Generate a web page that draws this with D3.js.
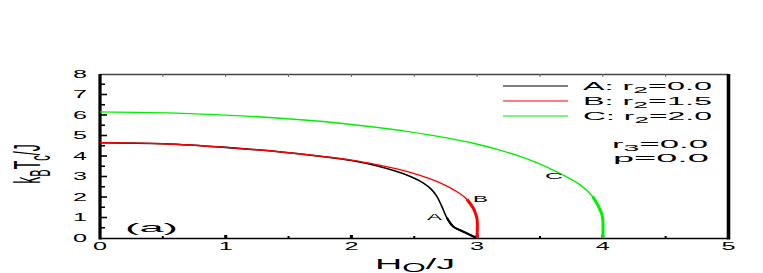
<!DOCTYPE html>
<html>
<head>
<meta charset="utf-8">
<title>Tc vs H0</title>
<script src="https://d3js.org/d3.v7.min.js"></script>
<style>
  body { margin: 0; background: #fff; }
  text { font-family: "Liberation Sans", Arial, sans-serif; fill: #000; }
</style>
</head>
<body>
<div id="chart"></div>
<script>
// data
var hA = [0, 0.5, 1, 1.5, 2, 2.2, 2.44, 2.57, 2.64, 2.68, 2.72, 2.76, 2.81, 2.89, 2.95, 3.0];
var tA = [4.65, 4.6, 4.42, 4.16, 3.78, 3.52, 3.07, 2.69, 2.35, 2.03, 1.53, 0.98, 0.56, 0.31, 0.13, 0];
var hB = [0, 0.5, 1, 1.5, 2, 2.2, 2.44, 2.71, 2.85, 2.92, 2.97, 2.99, 3.0, 3.0];
var tB = [4.65, 4.6, 4.42, 4.16, 3.8, 3.58, 3.25, 2.68, 2.22, 1.88, 1.45, 1.15, 0.9, 0];
var hC = [0, 0.66, 1.29, 1.91, 2.44, 2.97, 3.37, 3.63, 3.82, 3.92, 3.96, 3.99, 4.0, 4.0];
var tC = [6.15, 6.08, 5.9, 5.6, 5.2, 4.62, 3.92, 3.24, 2.59, 2.02, 1.61, 1.2, 0.9, 0];
var seriesNames = ["A: r", "B: r", "C: r"];
var seriesValues = ["=0.0", "=1.5", "=2.0"];
var xTicks = [0, 1, 2, 3, 4, 5];
var yTicks = [0, 1, 2, 3, 4, 5, 6, 7, 8];

var W = 763, H = 273;
var svg = d3.select("#chart").append("svg").attr("width", W).attr("height", H);

var x = d3.scaleLinear().domain([0, 5]).range([100, 728.5]);
var y = d3.scaleLinear().domain([0, 8]).range([238, 74]);

var halfs = d3.range(0.5, 5, 0.5);
var yHalfs = d3.range(0.5, 8, 0.5);

// top border with small ticks
svg.append("line").attr("x1", x(0)).attr("x2", x(5)).attr("y1", 74.5).attr("y2", 74.5)
  .attr("stroke", "#444").attr("stroke-width", 1.3);
svg.selectAll(".ttick").data(halfs).enter().append("line")
  .attr("x1", d => x(d)).attr("x2", d => x(d)).attr("y1", 74).attr("y2", 77)
  .attr("stroke", "#666").attr("stroke-width", 1);

// bottom axis
svg.append("line").attr("x1", x(0)).attr("x2", x(5)).attr("y1", y(0) + 0.5).attr("y2", y(0) + 0.5)
  .attr("stroke", "#000").attr("stroke-width", 1.6);
svg.selectAll(".btick").data(halfs).enter().append("rect")
  .attr("x", d => x(d) - (d % 1 === 0 ? 1.5 : 1))
  .attr("y", d => y(0) - (d % 1 === 0 ? 3 : 2))
  .attr("width", d => d % 1 === 0 ? 3 : 2)
  .attr("height", d => d % 1 === 0 ? 3 : 2)
  .attr("fill", "#000");

// left axis ticks
svg.selectAll(".ltick").data(yHalfs).enter().append("line")
  .attr("x1", x(0)).attr("x2", d => x(0) + (d % 1 === 0 ? 7 : 5))
  .attr("y1", d => y(d)).attr("y2", d => y(d))
  .attr("stroke", "#000").attr("stroke-width", 1.6);

// left and right thick borders
svg.append("line").attr("x1", x(0)).attr("x2", x(0)).attr("y1", 74).attr("y2", 239.5)
  .attr("stroke", "#000").attr("stroke-width", 3.2);
svg.append("line").attr("x1", x(5)).attr("x2", x(5)).attr("y1", 74).attr("y2", 239.5)
  .attr("stroke", "#000").attr("stroke-width", 3.6);

// tick labels
svg.selectAll(".ylab").data(yTicks).enter().append("text")
  .attr("x", 73).attr("y", d => y(d) + 3.5)
  .attr("font-size", 10).attr("textLength", 14).attr("lengthAdjust", "spacingAndGlyphs")
  .text(d => d);
svg.selectAll(".xlab").data(xTicks).enter().append("text")
  .attr("x", d => x(d) - 7).attr("y", 250)
  .attr("font-size", 10).attr("textLength", 14).attr("lengthAdjust", "spacingAndGlyphs")
  .text(d => d);

// curves
var line = d3.line().x(d => x(d[0])).y(d => y(d[1])).curve(d3.curveCatmullRom.alpha(0.5));
function pts(h, t) { return h.map((v, i) => [v, t[i]]); }
var curves = [
  { p: pts(hA, tA), color: "#000", w: 1.6, tail: 0.6, tw: 2.2 },
  { p: pts(hB, tB), color: "#ff0000", w: 1.4, tail: 1.45, tw: 3 },
  { p: pts(hC, tC), color: "#00f000", w: 1.4, tail: 1.7, tw: 3 }
];
curves.forEach(function(c) {
  svg.append("path").attr("d", line(c.p)).attr("fill", "none")
    .attr("stroke", c.color).attr("stroke-width", c.w);
  var k = c.p.findIndex(d => d[1] <= c.tail);
  svg.append("path").attr("d", line(c.p.slice(Math.max(0, k - 1)))).attr("fill", "none")
    .attr("stroke", c.color).attr("stroke-width", c.tw);
});

// legend
var legColors = ["#000", "#ff0000", "#00f000"];
seriesNames.forEach(function(n, i) {
  var ly = 86 + i * 15;
  svg.append("line").attr("x1", 503).attr("x2", 568).attr("y1", ly).attr("y2", ly)
    .attr("stroke", legColors[i]).attr("stroke-width", 1.2);
  var t = svg.append("text").attr("x", 583).attr("y", ly + 3.8).attr("font-size", 11)
    .attr("textLength", 129).attr("lengthAdjust", "spacingAndGlyphs");
  t.append("tspan").text(n);
  t.append("tspan").attr("dy", 3).attr("font-size", 9).text("2");
  t.append("tspan").attr("dy", -3).text(seriesValues[i]);
});
var t3 = svg.append("text").attr("x", 612).attr("y", 148).attr("font-size", 11)
  .attr("textLength", 96).attr("lengthAdjust", "spacingAndGlyphs");
t3.append("tspan").text("r");
t3.append("tspan").attr("dy", 3).attr("font-size", 9).text("3");
t3.append("tspan").attr("dy", -3).text("=0.0");
svg.append("text").attr("x", 613).attr("y", 161.5).attr("font-size", 11)
  .attr("textLength", 96).attr("lengthAdjust", "spacingAndGlyphs").text("p=0.0");

// curve labels
[["A", 427, 219.5, 15], ["B", 473, 201.5, 15], ["C", 545, 178.5, 18]].forEach(function(l) {
  svg.append("text").attr("x", l[1]).attr("y", l[2]).attr("font-size", 9.5)
    .attr("textLength", l[3]).attr("lengthAdjust", "spacingAndGlyphs").text(l[0]);
});
svg.append("text").attr("x", 125).attr("y", 231.5).attr("font-size", 13)
  .attr("textLength", 53).attr("lengthAdjust", "spacingAndGlyphs").text("(a)");

// axis titles
var xt = svg.append("text").attr("x", 375).attr("y", 268.5).attr("font-size", 15)
  .attr("textLength", 80).attr("lengthAdjust", "spacingAndGlyphs");
xt.append("tspan").text("H");
xt.append("tspan").attr("dy", 3).attr("font-size", 12).text("O");
xt.append("tspan").attr("dy", -3).text("/J");

var yt = svg.append("text").attr("transform", "translate(40,164) scale(2.6,1) rotate(-90)")
  .attr("text-anchor", "middle").attr("font-size", 14);
yt.append("tspan").text("k");
yt.append("tspan").attr("dy", 4).attr("font-size", 11).text("B");
yt.append("tspan").attr("dy", -4).text("T");
yt.append("tspan").attr("dy", 4).attr("font-size", 11).text("c");
yt.append("tspan").attr("dy", -4).text("/J");
</script>
</body>
</html>
